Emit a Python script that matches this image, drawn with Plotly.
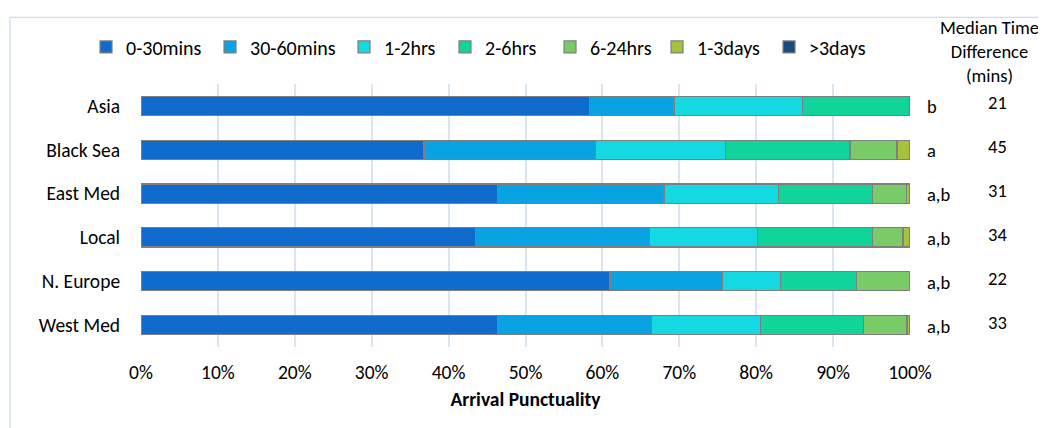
import plotly.graph_objects as go

regions = ["Asia", "Black Sea", "East Med", "Local", "N. Europe", "West Med"]
series_names = ["0-30mins", "30-60mins", "1-2hrs", "2-6hrs", "6-24hrs", "1-3days", ">3days"]
v_0_30 = [58.3, 36.8, 46.4, 43.5, 61.0, 46.4]
v_30_60 = [11.0, 22.3, 21.6, 22.6, 14.6, 20.0]
v_1_2 = [16.7, 16.9, 14.9, 14.1, 7.6, 14.2]
v_2_6 = [14.0, 16.2, 12.2, 14.9, 9.8, 13.4]
v_6_24 = [0.0, 6.1, 4.4, 4.0, 7.0, 5.6]
v_1_3d = [0.0, 1.7, 0.5, 0.9, 0.0, 0.4]
v_3d = [0.0, 0.0, 0.0, 0.0, 0.0, 0.0]
sig_letters = ["b", "a", "a,b", "a,b", "a,b", "a,b"]
median_diff = [21, 45, 31, 34, 22, 33]
x_ticks = [0, 10, 20, 30, 40, 50, 60, 70, 80, 90, 100]

series_values = [v_0_30, v_30_60, v_1_2, v_2_6, v_6_24, v_1_3d, v_3d]
colors = ["#0f6ccc", "#0aa3e2", "#14d9e2", "#10d49a", "#78cb66", "#a4c23c", "#1b4a80"]
legend_widths = [79, 89, 56, 60, 62, 67, 60]

FONT = "Carlito, Lato, sans-serif"

fig = go.Figure()
for name, vals, col, lw in zip(series_names, series_values, colors, legend_widths):
    fig.add_trace(go.Bar(
        y=regions, x=vals, name=name, orientation="h",
        marker=dict(color=col, line=dict(color="#7f7f7f", width=1.2)),
        legendwidth=lw,
        hoverinfo="x+y+name",
    ))

for reg, let, med in zip(regions, sig_letters, median_diff):
    fig.add_annotation(x=1.0195, y=reg, xref="paper", yref="y", text=let,
                       showarrow=False, xanchor="left", yshift=-1,
                       font=dict(family=FONT, size=18.5, color="#000"))
    fig.add_annotation(x=1.1144, y=reg, xref="paper", yref="y", text=str(med),
                       showarrow=False, xanchor="center", yshift=3,
                       font=dict(family=FONT, size=18.5, color="#000"))

fig.add_annotation(x=1.104, y=1.1217, xref="paper", yref="paper",
                   text="Median Time<br>Difference<br>(mins)", showarrow=False,
                   xanchor="center", yanchor="middle", align="center",
                   font=dict(family=FONT, size=18.5, color="#000"))

fig.add_shape(type="rect", xref="paper", yref="paper",
              x0=-0.1703, x1=1.3, y0=-0.5, y1=1.2536,
              line=dict(color="#c9dbef", width=1.2), layer="below")

fig.update_layout(
    width=1046, height=428,
    margin=dict(l=133, r=144, t=76, b=89),
    barmode="stack", bargap=0.56,
    paper_bgcolor="white", plot_bgcolor="white",
    font=dict(family=FONT, size=19.5, color="#000"),
    showlegend=True,
    legend=dict(orientation="h", x=-0.0715, xanchor="left", y=1.141, yanchor="middle",
                font=dict(family=FONT, size=20), itemwidth=30, traceorder="normal",
                bgcolor="rgba(0,0,0,0)"),
    xaxis=dict(range=[0, 100], tickvals=x_ticks, ticktext=[f"{t}%" for t in x_ticks],
               showgrid=True, gridcolor="#dbe5f1", gridwidth=1.5, zeroline=False,
               showline=False, ticks="outside", ticklen=8, tickcolor="rgba(0,0,0,0)",
               tickfont=dict(family=FONT, size=19.5),
               title=dict(text="<b>Arrival Punctuality</b>", standoff=8,
                          font=dict(family=FONT, size=19.5))),
    yaxis=dict(autorange="reversed", showgrid=False, zeroline=False, showline=False,
               ticks="outside", ticklen=16, tickcolor="rgba(0,0,0,0)",
               tickfont=dict(family=FONT, size=19.5)),
)

fig.write_html("out.html")
